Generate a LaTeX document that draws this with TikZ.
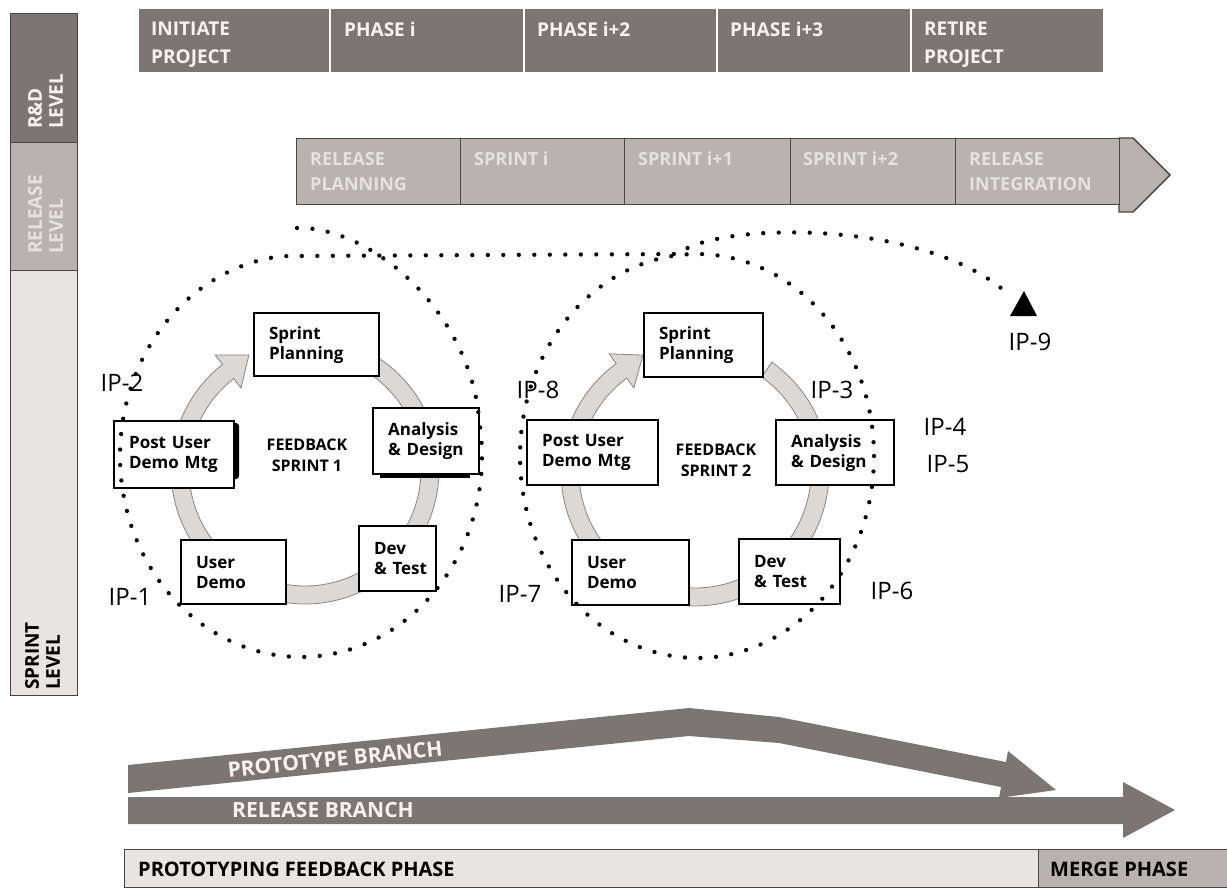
\documentclass[tikz,border=0pt]{standalone}
\usepackage{fontspec}
\setmainfont{Open Sans}
\definecolor{dk}{HTML}{7D7573}
\definecolor{md}{HTML}{B8B2B0}
\definecolor{lt}{HTML}{E8E4E2}
\definecolor{edge}{HTML}{4A4442}
\definecolor{ringfill}{HTML}{DCD8D6}
\definecolor{ringedge}{HTML}{8A8482}
\definecolor{wtxt}{HTML}{F6F2F0}
\definecolor{ltxt}{HTML}{E6E2E0}
\newcommand\hdrfont{\bfseries\fontsize{19}{28}\selectfont}
\newcommand\relfont{\bfseries\fontsize{18}{25}\selectfont}
\newcommand\lvlfont{\bfseries\fontsize{19}{21}\selectfont}
\newcommand\ipfont{\fontsize{24}{28}\selectfont}
\newcommand\bxfont{\bfseries\fontsize{17}{20}\selectfont}
\newcommand\fbfont{\bfseries\fontsize{16}{21}\selectfont}
\newcommand\brfont{\bfseries\fontsize{21}{24}\selectfont}
\newcommand\phfont{\bfseries\fontsize{20}{24}\selectfont}
\begin{document}
\begin{tikzpicture}[x=1pt,y=-1pt,
  topcell/.style={fill=dk, draw=white, line width=1.5pt, minimum height=64pt, anchor=north west, inner sep=0pt},
  toptext/.style={anchor=north west, inner sep=0pt, align=left, text=wtxt, font=\hdrfont},
  relcell/.style={fill=md, draw=edge, line width=1.4pt, minimum height=66pt, anchor=north west, inner sep=0pt},
  reltext/.style={anchor=north west, inner sep=0pt, align=left, text=ltxt, font=\relfont},
  lvlblock/.style={draw=edge, line width=1.4pt, minimum width=67pt, anchor=north west, inner sep=0pt},
  lvltext/.style={anchor=north west, inner sep=0pt, align=left, rotate=90, font=\lvlfont},
  box/.style={draw=black, line width=2.2pt, fill=white, align=left, font=\bxfont, inner xsep=15pt, inner ysep=0pt, anchor=north west},
  fbtext/.style={align=center, font=\fbfont, inner sep=0pt},
  iplabel/.style={font=\ipfont, inner sep=0pt},
  ringst/.style={fill=ringfill, draw=ringedge, line width=0.8pt},
  dotst/.style={line width=4.3pt, dash pattern=on 0pt off 15.5pt, line cap=round},
  branch/.style={fill=dk},
  brtext/.style={text=wtxt, font=\brfont, inner sep=0pt},
  phasecell/.style={draw=edge, line width=1.2pt, minimum height=38pt, anchor=north west, inner sep=0pt},
  phasetext/.style={anchor=west, inner sep=0pt, font=\phfont}
]
\useasboundingbox (0,0) rectangle (1227,888);

% ---------- left level bar ----------
\node[lvlblock, fill=lt, minimum height=425pt] (sprintlvl) at (10,270) {};
\node[lvlblock, fill=md, minimum height=128pt] (releaselvl) at (10,142) {};
\node[lvlblock, fill=dk, minimum height=129pt] (rdlvl) at (10,13) {};
\node[lvltext, text=wtxt] (rdlvlt) at (28,129) {R\&D\\LEVEL};
\node[lvltext, text=ltxt] (releaselvlt) at (28,254) {RELEASE\\LEVEL};
\node[lvltext, text=black] (sprintlvlt) at (25,690) {SPRINT\\LEVEL};

% ---------- top phase bar ----------
\node[topcell, minimum width=192pt] (ph1) at (137,8) {};
\node[topcell, minimum width=194pt] (ph2) at (329,8) {};
\node[topcell, minimum width=193pt] (ph3) at (523,8) {};
\node[topcell, minimum width=194pt] (ph4) at (716,8) {};
\node[topcell, minimum width=193pt] (ph5) at (910,8) {};
\node[toptext] (ph1t) at (151,22) {INITIATE\\PROJECT};
\node[toptext] (ph2t) at (344,22) {PHASE i};
\node[toptext] (ph3t) at (537,22) {PHASE i+2};
\node[toptext] (ph4t) at (730,22) {PHASE i+3};
\node[toptext] (ph5t) at (924,22) {RETIRE\\PROJECT};

% ---------- release bar ----------
\draw[fill=md, draw=edge, line width=1.4pt] (1119,138) -- (1133,138) -- (1170,175) -- (1133,212) -- (1119,212) -- cycle;
\node[relcell, minimum width=164pt] (rl1) at (296,138) {};
\node[relcell, minimum width=164pt] (rl2) at (460,138) {};
\node[relcell, minimum width=166pt] (rl3) at (624,138) {};
\node[relcell, minimum width=165pt] (rl4) at (790,138) {};
\node[relcell, minimum width=164pt] (rl5) at (955,138) {};
\node[reltext] (rl1t) at (310,152) {RELEASE\\PLANNING};
\node[reltext] (rl2t) at (474,152) {SPRINT i};
\node[reltext] (rl3t) at (638,152) {SPRINT i+1};
\node[reltext] (rl4t) at (803,152) {SPRINT i+2};
\node[reltext] (rl5t) at (969,152) {RELEASE\\INTEGRATION};

% ---------- sprint cycle rings ----------
\filldraw[ringst] plot[domain=-58:232, samples=90] ({305+134*cos(\x)},{470+134*sin(\x)})
  -- ({305+146*cos(232)},{470+146*sin(232)})
  -- ({305+128*cos(244)},{470+128*sin(244)})
  -- ({305+104*cos(232)},{470+104*sin(232)})
  -- plot[domain=232:-58, samples=90] ({305+116*cos(\x)},{470+116*sin(\x)})
  -- cycle;
\filldraw[ringst] plot[domain=-55:234, samples=90] ({695+134*cos(\x)},{472+134*sin(\x)})
  -- ({695+146*cos(234)},{472+146*sin(234)})
  -- ({695+128*cos(246)},{472+128*sin(246)})
  -- ({695+104*cos(234)},{472+104*sin(234)})
  -- plot[domain=234:-55, samples=90] ({695+116*cos(\x)},{472+116*sin(\x)})
  -- cycle;

% shadows
\fill[black, rounded corners=3pt] (226,423) rectangle (239,479);
\fill[black] (380,468) rectangle (470,478);

% ---------- sprint 1 boxes ----------
\node[box, text width=95pt, minimum height=63pt] (sp1) at (253,312) {Sprint\\Planning};
\node[box, text width=76pt, minimum height=66pt] (ad1) at (372,407) {Analysis\\\&~Design};
\node[box, text width=47pt, minimum height=65pt] (dt1) at (358,525) {Dev\\\&~Test};
\node[box, text width=75pt, minimum height=64pt] (ud1) at (180,539) {User\\Demo};
\node[box, text width=90pt, minimum height=67pt] (pu1) at (113,420) {Post~User\\Demo~Mtg};
\node[fbtext] (fb1) at (307,455) {FEEDBACK\\SPRINT 1};

% ---------- sprint 2 boxes ----------
\node[box, text width=89pt, minimum height=64pt] (sp2) at (643,312) {Sprint\\Planning};
\node[box, text width=88pt, minimum height=65pt] (ad2) at (775,419) {Analysis\\\&~Design};
\node[box, text width=71pt, minimum height=65pt] (dt2) at (738,538) {Dev\\\&~Test};
\node[box, text width=87pt, minimum height=65pt] (ud2) at (571,539) {User\\Demo};
\node[box, text width=101pt, minimum height=65pt] (pu2) at (526,419) {Post~User\\Demo~Mtg};
\node[fbtext] (fb2) at (716,460) {FEEDBACK\\SPRINT 2};

% ---------- integration point labels ----------
\node[iplabel] (ip1) at (130,597) {IP-1};
\node[iplabel] (ip2) at (122,383) {IP-2};
\node[iplabel] (ip3) at (832,390) {IP-3};
\node[iplabel] (ip4) at (945,427) {IP-4};
\node[iplabel] (ip5) at (948,464) {IP-5};
\node[iplabel] (ip6) at (892,591) {IP-6};
\node[iplabel] (ip7) at (520,594) {IP-7};
\node[iplabel] (ip8) at (538,390) {IP-8};
\node[iplabel] (ip9) at (1030,342) {IP-9};

% ---------- dotted spiral path ----------
\draw[dotst] (297,228) .. controls (370,226) and (470,310) .. (479.3,421.1)
  -- plot[domain=-10:264, samples=140] ({301+181*cos(\x)},{456+201*sin(\x)})
  -- (678,254) .. controls (715,222) and (925,218) .. (1008,294);
\draw[dotst] plot[domain=0:360, samples=160] ({697+177*cos(\x)},{456+202*sin(\x)});
\fill (1024,291) -- (1037,316) -- (1010,316) -- cycle;

% ---------- branches ----------
\fill[branch] (128,765) -- (689,708) -- (779,717) -- (1006,762) -- (1008,751) -- (1056,790)
  -- (999,798) -- (1001,787) -- (779,743) -- (689,736) -- (128,793) -- cycle;
\fill[branch] (128,797) -- (1123,797) -- (1123,782) -- (1175,810) -- (1123,838) -- (1123,824) -- (128,824) -- cycle;
\node[brtext, rotate=5.8] (protot) at (335,759) {PROTOTYPE BRANCH};
\node[brtext] (releaset) at (323,810) {RELEASE BRANCH};

% ---------- bottom phase bar ----------
\node[phasecell, fill=lt, minimum width=914pt] (pfp) at (124,849) {};
\node[phasecell, fill=md, minimum width=195pt] (mp) at (1038,849) {};
\node[phasetext] (pfpt) at (138,869) {PROTOTYPING FEEDBACK PHASE};
\node[phasetext] (mpt) at (1050,869) {MERGE PHASE};
\end{tikzpicture}
\end{document}
